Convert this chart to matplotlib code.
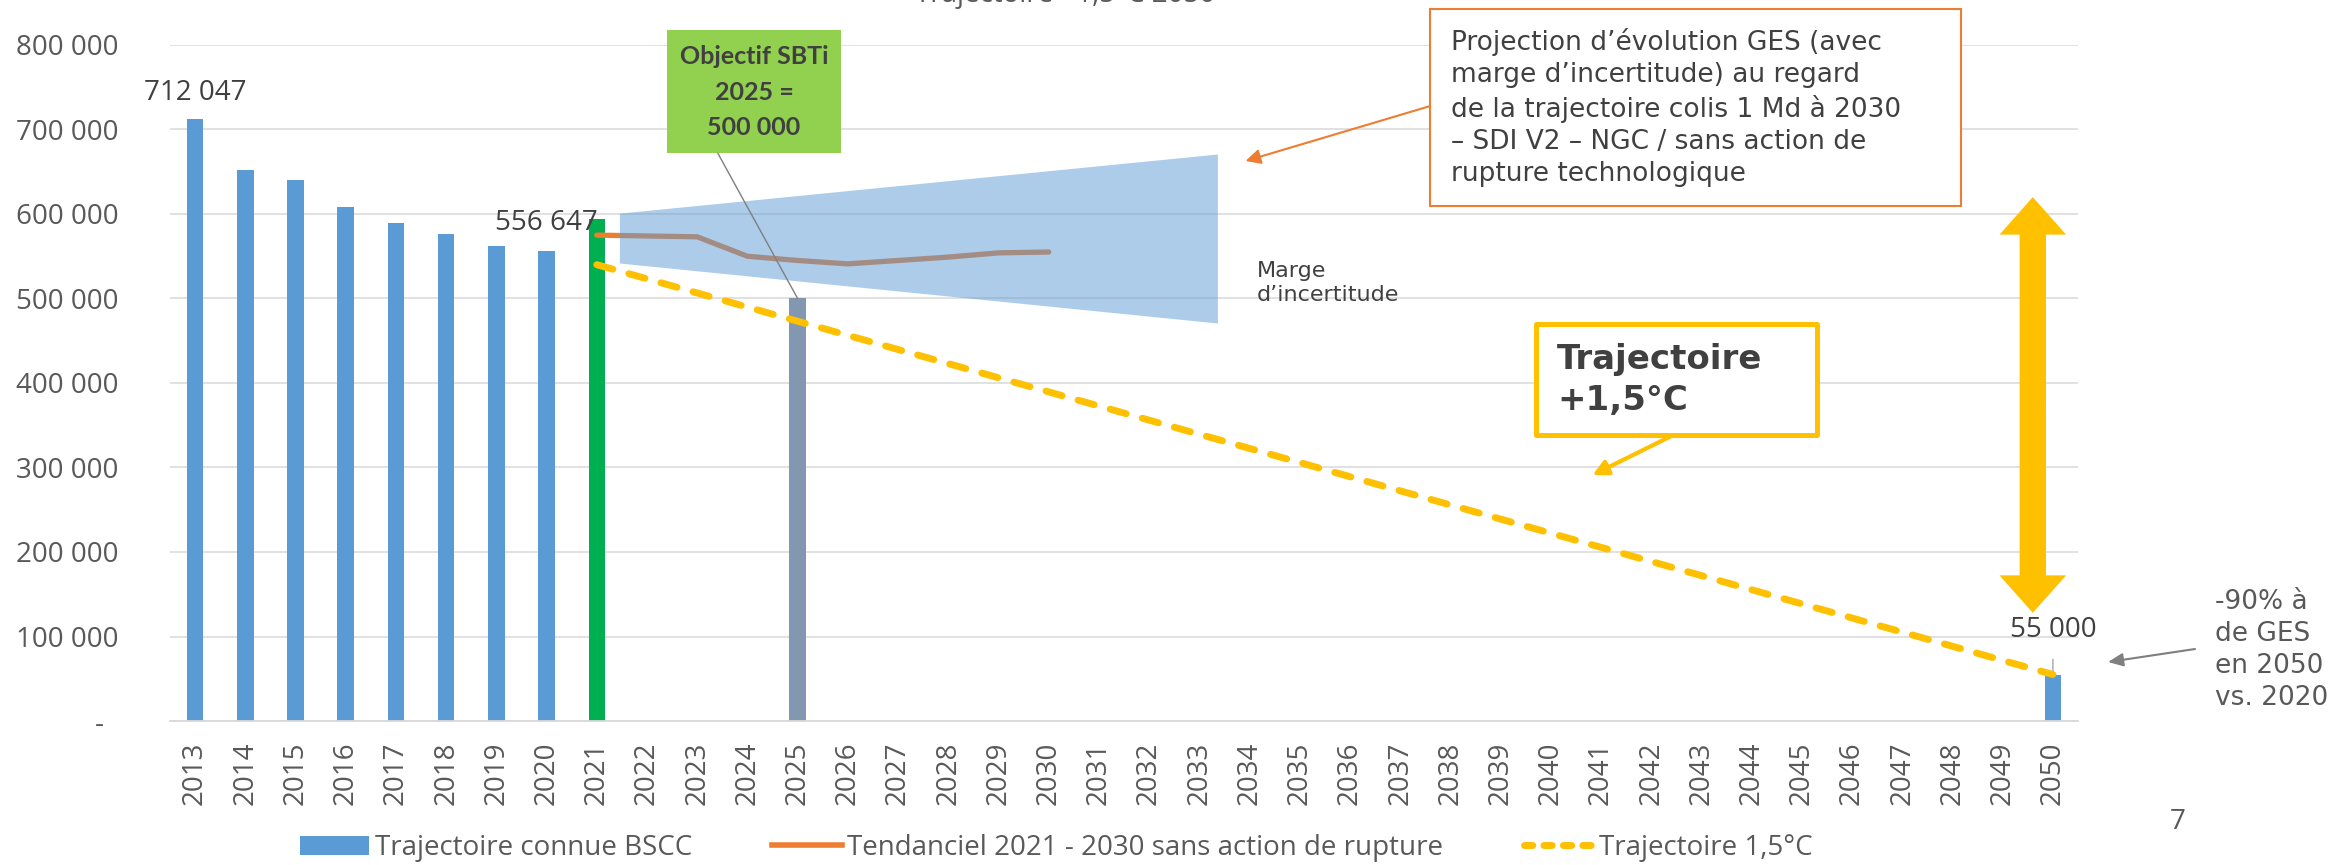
import matplotlib.pyplot as plt
from matplotlib.patches import Rectangle, FancyArrowPatch, Patch
from matplotlib.lines import Line2D
from matplotlib.ticker import FuncFormatter

plt.rcParams['font.family'] = ['Open Sans', 'DejaVu Sans']

# --- data ---
all_years = list(range(2013, 2051))
known_years = [2013, 2014, 2015, 2016, 2017, 2018, 2019, 2020]
known_values = [712047, 652000, 640000, 608000, 589000, 576000, 562000, 556647]
year_2021 = [2021]
value_2021 = [594000]
sbti_year = [2025]
sbti_value = [500000]
target_year = [2050]
target_value = [55000]

trend_years = [2021, 2022, 2023, 2024, 2025, 2026, 2027, 2028, 2029, 2030]
trend_values = [575000, 574000, 573000, 550000, 545000, 541000, 545000, 549000, 554000, 555000]

traj_years = [2021, 2050]
traj_values = [540000, 55000]

# uncertainty wedge (drawn shape)
uncert_x = [2021.45, 2033.36]
uncert_low = [542000, 471000]
uncert_high = [601000, 671000]

BLUE = '#5B9BD5'
GREEN = '#00B050'
GREY_BAR = '#8497B0'
ORANGE = '#ED7D31'
YELLOW = '#FFC000'
TXT = '#595959'
DARK = '#404040'

fig = plt.figure(figsize=(23.36, 8.65), dpi=100)
ax = fig.add_axes([170 / 2336, 144 / 865, 1908 / 2336, 676 / 865])

bw = 0.33
ax.bar(known_years, known_values, width=bw, color=BLUE, zorder=2)
ax.bar(year_2021, value_2021, width=bw, color=GREEN, zorder=2)
ax.bar(sbti_year, sbti_value, width=bw, color=GREY_BAR, zorder=2)
ax.bar(target_year, target_value, width=bw, color=BLUE, zorder=2)

ax.plot(trend_years, trend_values, color=ORANGE, lw=3.8, solid_capstyle='round', zorder=3)
ax.fill_between(uncert_x, uncert_low, uncert_high, color=BLUE, alpha=0.5, lw=0, zorder=4)
ax.plot(traj_years, traj_values, color=YELLOW, lw=5, linestyle=(0, (2.4, 2.4)),
        dash_capstyle='round', zorder=5)

ax.set_xlim(2012.5, 2050.5)
ax.set_ylim(0, 800000)
ax.set_xticks(all_years)
ax.set_xticklabels([str(y) for y in all_years], rotation=90)
ax.set_yticks(range(0, 800001, 100000))
ax.yaxis.set_major_formatter(FuncFormatter(
    lambda v, p: '-  ' if v == 0 else f'{int(v):,}'.replace(',', ' ')))
ax.tick_params(axis='y', length=0, pad=37, labelsize=20, labelcolor=TXT)
ax.tick_params(axis='x', length=0, pad=15, labelsize=20, labelcolor=TXT)
ax.grid(axis='y', color='#D9D9D9', lw=1.1)
ax.set_axisbelow(True)
for s in ['top', 'right', 'left']:
    ax.spines[s].set_visible(False)
ax.spines['bottom'].set_color('#D9D9D9')
ax.spines['bottom'].set_linewidth(1.3)

# data labels
ax.annotate('712 047', (2013, 712047), xytext=(0, 19), textcoords='offset points',
            ha='center', va='center', fontsize=20, color=DARK)
ax.annotate('556 647', (2020, 556647), xytext=(0, 20), textcoords='offset points',
            ha='center', va='center', fontsize=20, color=DARK)
ax.annotate('55 000', xy=(2050, 55000), xytext=(2050, 107700), ha='center', va='center',
            fontsize=20, color=DARK,
            arrowprops=dict(arrowstyle='-', color='#A6A6A6', lw=1, shrinkA=9, shrinkB=0))

# green SBTi box
ax.add_patch(Rectangle((2022.40, 672000), 3.46, 145700, facecolor='#92D050',
                       edgecolor='none', clip_on=False, zorder=6))
ax.text(2024.13, 744000, 'Objectif SBTi\n2025 =\n500 000', ha='center', va='center',
        fontsize=18, fontweight='bold', family=['Lato', 'DejaVu Sans'], color=DARK,
        linespacing=1.65, zorder=7, clip_on=False)
ax.annotate('', xy=(2025, 500000), xytext=(2023.41, 672000),
            arrowprops=dict(arrowstyle='-', color='#7F7F7F', lw=1, shrinkA=0, shrinkB=0),
            zorder=6)

# orange projection box
ax.add_patch(Rectangle((2037.60, 609000), 10.57, 234000, facecolor='white',
                       edgecolor=ORANGE, lw=1.5, clip_on=False, zorder=6))
ax.text(2038.02, 726000,
        'Projection d\u2019évolution GES (avec\nmarge d\u2019incertitude) au regard\n'
        'de la trajectoire colis 1 Md à 2030\n\u2013 SDI V2 \u2013 NGC / sans action de\n'
        'rupture technologique',
        ha='left', va='center', fontsize=19, family=['DejaVu Sans'], color=DARK,
        linespacing=1.3, zorder=7, clip_on=False)
ax.annotate('', xy=(2033.92, 662700), xytext=(2037.60, 727800),
            arrowprops=dict(arrowstyle='-|>,head_length=0.9,head_width=0.45', color=ORANGE,
                            lw=1.5, shrinkA=0, shrinkB=0))

ax.text(2034.15, 518000, 'Marge\nd\u2019incertitude', ha='left', va='center', fontsize=16,
        family=['DejaVu Sans'], color=DARK, linespacing=1.25)

# yellow +1.5 box
ax.add_patch(Rectangle((2039.70, 338400), 5.61, 131400, facecolor='white',
                       edgecolor=YELLOW, lw=3.6, joinstyle='round', zorder=6))
ax.text(2040.13, 404000, 'Trajectoire\n+1,5°C', ha='left', va='center', fontsize=24.5,
        fontweight='bold', family=['DejaVu Sans'], color=DARK, linespacing=1.3, zorder=7)
ax.annotate('', xy=(2040.83, 291000), xytext=(2042.44, 338400),
            arrowprops=dict(arrowstyle='-|>,head_length=0.9,head_width=0.45', color=YELLOW,
                            lw=3, shrinkA=0, shrinkB=0))

# big double yellow arrow
mid = 374000
for end in (620000, 128000):
    ax.add_patch(FancyArrowPatch((2049.6, mid), (2049.6, end),
                                 arrowstyle='simple,head_length=27,head_width=48,tail_width=19',
                                 mutation_scale=1, color=YELLOW, lw=0, shrinkA=0, shrinkB=0,
                                 zorder=6, clip_on=False))

# -90% note
ax.text(2053.23, 84000, '-90% à\nde GES\nen 2050\nvs. 2020', ha='left', va='center',
        fontsize=19, family=['DejaVu Sans'], color=TXT, linespacing=1.3, clip_on=False)
ax.annotate('', xy=(2051.10, 69800), xytext=(2052.83, 85200),
            arrowprops=dict(arrowstyle='-|>,head_length=0.9,head_width=0.4', color='#7F7F7F',
                            lw=1.5, shrinkA=0, shrinkB=0), annotation_clip=False)

# legend
handles = [Patch(facecolor=BLUE, edgecolor='none'),
           Line2D([], [], color=ORANGE, lw=4),
           Line2D([], [], color=YELLOW, lw=5, linestyle=(0, (1.2, 1.6)), dash_capstyle='round')]
labels = ['Trajectoire connue BSCC', 'Tendanciel 2021 - 2030 sans action de rupture',
          'Trajectoire 1,5°C']
fig.legend(handles, labels, loc='center', bbox_to_anchor=(1056 / 2336, 17 / 865), ncol=3,
           frameon=False, fontsize=20, handlelength=2.5, handletextpad=0.2,
           columnspacing=2.9, labelcolor=TXT)

fig.text(2178 / 2336, 43 / 865, '7', ha='center', va='center', fontsize=20, color=TXT)
# title sits mostly above the crop of the original slide
fig.text(1065 / 2336, 1 - 2 / 865, 'Trajectoire +1,5°C 2050', ha='center', va='baseline',
         fontsize=20, color=TXT)

fig.savefig('out.png', dpi=100)
